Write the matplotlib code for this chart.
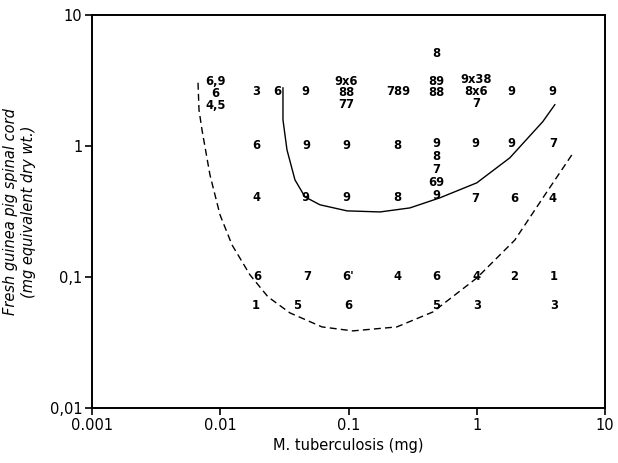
import numpy as np
import matplotlib
matplotlib.use("Agg")
import matplotlib.pyplot as plt

# numbers scored in each cell (text, M. tuberculosis mg, spinal cord mg);
# stacked entries in one cell are kept together as one text
labels = ["6,9\n6\n4,5",
          "3", "6", "4", "6", "1",
          "6",
          "9", "9", "9", "7", "5",
          "9x6\n88\n77", "9", "9", "6'", "6",
          "789", "8", "8", "4",
          "8", "89\n88", "9\n8\n7\n69\n9", "6", "5",
          "9x38\n8x6\n7", "9", "7", "4", "3",
          "9", "9", "6", "2",
          "9", "7", "4", "1", "3"]
x_mg = [0.0092,
        0.019, 0.019, 0.019, 0.0195, 0.019,
        0.0277,
        0.046, 0.047, 0.046, 0.048, 0.040,
        0.096, 0.0955, 0.0955, 0.1, 0.1,
        0.243, 0.24, 0.24, 0.24,
        0.48, 0.48, 0.485, 0.48, 0.48,
        0.99, 0.97, 0.98, 1.0, 1.0,
        1.85, 1.85, 1.95, 1.95,
        3.92, 3.92, 3.92, 4.0, 4.0]
y_mg = [2.49,
        2.58, 1.0, 0.4, 0.1, 0.06,
        2.58,
        2.58, 1.0, 0.4, 0.1, 0.06,
        2.54, 1.0, 0.4, 0.1, 0.061,
        2.58, 1.0, 0.4, 0.1,
        5.1, 2.82, 0.655, 0.1, 0.06,
        2.58, 1.035, 0.394, 0.1, 0.06,
        2.58, 1.035, 0.394, 0.1,
        2.58, 1.035, 0.394, 0.1, 0.06]
spacing = [0.9,
           1, 1, 1, 1, 1,
           1,
           1, 1, 1, 1, 1,
           0.85, 1, 1, 1, 1,
           1, 1, 1, 1,
           1, 0.75, 1.0, 1, 1,
           0.9, 1, 1, 1, 1,
           1, 1, 1, 1,
           1, 1, 1, 1, 1]

# solid boundary
solid_x = [0.0308, 0.0308, 0.0331, 0.0382, 0.0457, 0.0598, 0.0972, 0.176,
           0.301, 0.515, 1.0, 1.81, 3.27, 4.06]
solid_y = [2.77, 1.58, 0.932, 0.550, 0.408, 0.355, 0.319, 0.313,
           0.336, 0.401, 0.522, 0.810, 1.53, 2.06]

# dashed boundary
dash_x = [0.0067, 0.00682, 0.0072, 0.0083, 0.00995, 0.01234, 0.01704, 0.02353,
          0.0349, 0.0621, 0.108, 0.238, 0.455, 1.0, 1.98, 3.40, 5.51]
dash_y = [3.03, 1.88, 1.32, 0.601, 0.297, 0.1754, 0.1035, 0.0704,
          0.0531, 0.0415, 0.0387, 0.0415, 0.054, 0.098, 0.191, 0.423, 0.853]

xticks = [0.001, 0.01, 0.1, 1, 10]
xticklabels = ["0.001", "0.01", "0.1", "1", "10"]
yticks = [0.01, 0.1, 1, 10]
yticklabels = ["0,01", "0,1", "1", "10"]

fig = plt.figure(figsize=(6.18, 4.63), dpi=100)
ax = fig.add_axes([0.149, 0.119, 0.830, 0.849])
ax.set_xscale("log")
ax.set_yscale("log")
ax.set_xlim(0.001, 10)
ax.set_ylim(0.01, 10)

ax.plot(solid_x, solid_y, color="black", lw=1.0)
ax.plot(dash_x, dash_y, color="black", lw=1.0, dashes=(5, 3))

for t, xv, yv, ls in zip(labels, x_mg, y_mg, spacing):
    ax.text(xv, yv, t, ha="center", va="center", fontsize=8.3,
            fontweight="bold", linespacing=ls, multialignment="center")

ax.set_xticks(xticks)
ax.set_xticklabels(xticklabels)
ax.set_yticks(yticks)
ax.set_yticklabels(yticklabels)
ax.minorticks_off()
ax.tick_params(direction="out", length=5, width=1.2, labelsize=10.5, pad=2)
for s in ax.spines.values():
    s.set_linewidth(1.4)

ax.set_xlabel("M. tuberculosis (mg)", fontsize=10.5, labelpad=4)
ax.set_ylabel("Fresh guinea pig spinal cord\n(mg equivalent dry wt.)",
              fontsize=10.5, style="italic", labelpad=10)

fig.savefig("out.png", dpi=100)
